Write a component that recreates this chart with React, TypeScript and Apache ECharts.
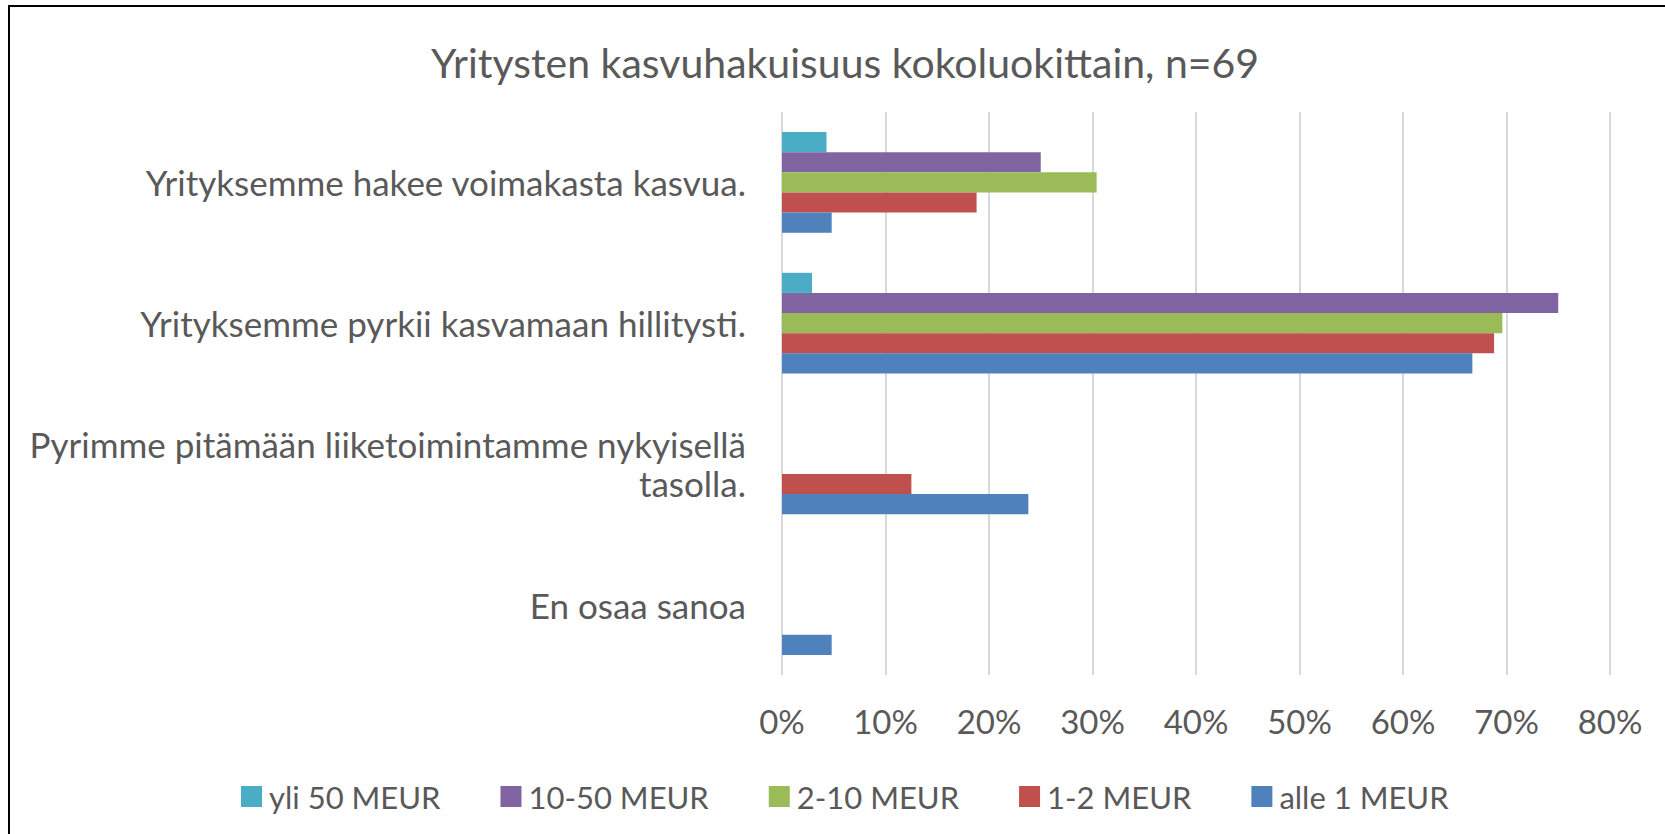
import React, { useEffect, useRef } from "react";
import * as echarts from "echarts";

const categories = [
  "Yrityksemme hakee voimakasta kasvua.",
  "Yrityksemme pyrkii kasvamaan hillitysti.",
  "Pyrimme pitämään liiketoimintamme nykyisellä\ntasolla.",
  "En osaa sanoa",
];

const seriesNames = ["yli 50 MEUR", "10-50 MEUR", "2-10 MEUR", "1-2 MEUR", "alle 1 MEUR"];
const yli50 = [4.3, 2.9, 0, 0];
const m10to50 = [25, 75, 0, 0];
const m2to10 = [30.4, 69.6, 0, 0];
const m1to2 = [18.8, 68.8, 12.5, 0];
const alle1 = [4.8, 66.7, 23.8, 4.8];
const seriesValues = [yli50, m10to50, m2to10, m1to2, alle1];
const colors = ["#4BACC6", "#8064A2", "#9BBB59", "#C0504D", "#4F81BD"];

const titleText = "Yritysten kasvuhakuisuus kokoluokittain, n=69";
const FONT = "Lato";
const TEXT_COLOR = "#595959";

export default function App() {
  const ref = useRef<HTMLDivElement>(null);
  useEffect(() => {
    if (!ref.current) return;
    const chart = echarts.init(ref.current, undefined, { renderer: "svg" });
    chart.setOption({
      animation: false,
      backgroundColor: "#ffffff",
      color: colors,
      textStyle: { fontFamily: FONT },
      title: {
        text: titleText,
        left: 840,
        textAlign: "center",
        top: 34,
        textStyle: {
          fontFamily: FONT,
          fontSize: 41,
          fontWeight: "normal",
          color: TEXT_COLOR,
          lineHeight: 46,
        },
      },
      legend: {
        data: seriesNames,
        left: 236,
        top: 776,
        itemWidth: 21,
        itemHeight: 21,
        itemGap: 60,
        icon: "rect",
        textStyle: { fontFamily: FONT, fontSize: 31, color: TEXT_COLOR, padding: [0, 0, 0, 2] },
      },
      grid: { left: 782, right: 55, top: 112, bottom: 159, containLabel: false },
      xAxis: {
        type: "value",
        min: 0,
        max: 80,
        interval: 10,
        axisLine: { show: false },
        axisTick: { show: false },
        splitLine: { show: true, lineStyle: { color: "#D9D9D9", width: 2 } },
        axisLabel: {
          formatter: "{value}%",
          fontFamily: FONT,
          fontSize: 33,
          color: TEXT_COLOR,
          margin: 29,
        },
      },
      yAxis: {
        type: "category",
        data: categories,
        inverse: true,
        axisLine: { show: false },
        axisTick: { show: false },
        splitLine: { show: false },
        axisLabel: {
          fontFamily: FONT,
          fontSize: 35,
          color: TEXT_COLOR,
          margin: 36,
          lineHeight: 39,
          align: "right",
        },
      },
      series: seriesNames.map((name, i) => ({
        name,
        type: "bar",
        data: seriesValues[i],
        barGap: "0%",
        barCategoryGap: "28.5%",
        itemStyle: { color: colors[i] },
      })),
    });
    return () => chart.dispose();
  }, []);
  return (
    <div
      style={{
        position: "fixed",
        left: 0,
        top: 0,
        width: 1665,
        height: 834,
        background: "#fff",
      }}
    >
      <div ref={ref} style={{ position: "absolute", left: 0, top: 0, width: 1665, height: 834 }} />
      <div
        style={{
          position: "absolute",
          left: 8,
          top: 5,
          width: 1665,
          height: 840,
          borderTop: "2.5px solid #000",
          borderLeft: "2.5px solid #000",
          pointerEvents: "none",
        }}
      />
    </div>
  );
}
